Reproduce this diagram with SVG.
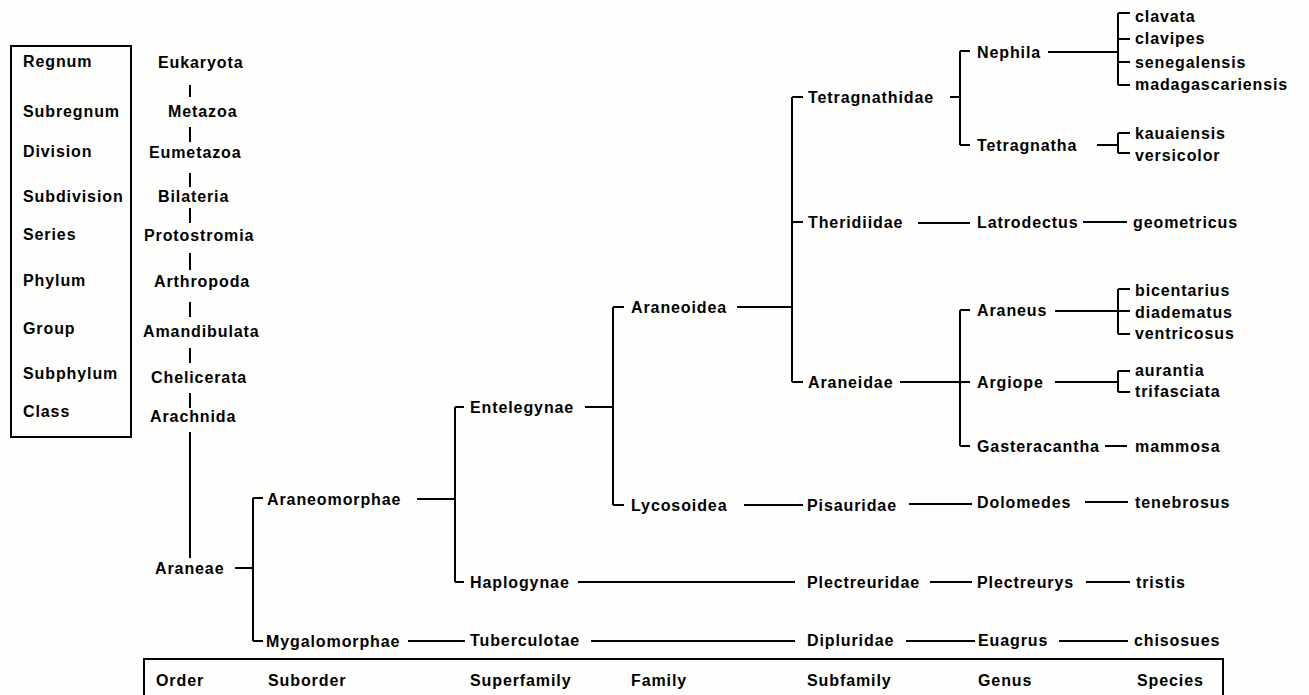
<svg xmlns="http://www.w3.org/2000/svg" width="1309" height="695" viewBox="0 0 1309 695">
<style>
text{font-family:"Liberation Sans",Arial,sans-serif;font-weight:bold;font-size:16px;letter-spacing:0.9px;fill:#000;dominant-baseline:central}
.ln{stroke:#000;stroke-width:2;fill:none}
.box{stroke:#000;stroke-width:2;fill:none}
</style>
<rect width="1309" height="695" fill="#fefefc"/>
<rect class="box" x="11" y="46" width="120" height="391"/>
<rect class="box" x="144" y="659" width="1079" height="60"/>
<g id="ranks">
<text x="23" y="61">Regnum</text>
<text x="23" y="111">Subregnum</text>
<text x="23" y="151">Division</text>
<text x="23" y="196">Subdivision</text>
<text x="23" y="234">Series</text>
<text x="23" y="280">Phylum</text>
<text x="23" y="328">Group</text>
<text x="23" y="373">Subphylum</text>
<text x="23" y="411">Class</text>
<text x="156" y="680">Order</text>
<text x="268" y="680">Suborder</text>
<text x="470" y="680">Superfamily</text>
<text x="631" y="680">Family</text>
<text x="807" y="680">Subfamily</text>
<text x="978" y="680">Genus</text>
<text x="1137" y="680">Species</text>
</g>
<g id="connectors" class="ln">
<path class="ln" d="M190 85V97M190 127V142M190 173V187M190 208V223M190 253V270M190 302V317M190 348V363M190 393V408M190 432V558"/>
<path class="ln" d="M235 568H253M253 498V641M253 498H263M253 641H263"/>
<path class="ln" d="M417 499H455M455 407V582M455 407H464M455 582H464"/>
<path class="ln" d="M585 407H613M613 307V505M613 307H624M613 505H624"/>
<path class="ln" d="M737 307H792M792 97V382M792 97H803M792 222H803M792 382H803"/>
<path class="ln" d="M950 97H960M960 51V145M960 51H970M960 145H970"/>
<path class="ln" d="M918 223H970"/>
<path class="ln" d="M900 382H960M960 310V446M960 310H970M960 382H970M960 446H970"/>
<path class="ln" d="M744 505H803M909 504H972"/>
<path class="ln" d="M578 582H795M930 582H972M1086 582H1130"/>
<path class="ln" d="M408 641H465M591 641H795M906 641H975M1059 641H1128"/>
<path class="ln" d="M1048 52H1118M1118 13V85M1118 13H1130M1118 39H1130M1118 62H1130M1118 85H1130"/>
<path class="ln" d="M1097 145H1118M1118 133V153M1118 133H1130M1118 153H1130"/>
<path class="ln" d="M1083 222H1127"/>
<path class="ln" d="M1055 311H1118M1118 289V334M1118 289H1130M1118 311H1130M1118 334H1130"/>
<path class="ln" d="M1055 382H1118M1118 371V392M1118 371H1130M1118 392H1130"/>
<path class="ln" d="M1105 446H1127"/>
<path class="ln" d="M1085 502H1128"/>
</g>
<g id="n-eukaryota"><text x="158" y="62">Eukaryota</text></g>
<g id="n-metazoa"><text x="168" y="111">Metazoa</text></g>
<g id="n-eumetazoa"><text x="149" y="152">Eumetazoa</text></g>
<g id="n-bilateria"><text x="158" y="196">Bilateria</text></g>
<g id="n-protostromia"><text x="144" y="235">Protostromia</text></g>
<g id="n-arthropoda"><text x="154" y="281">Arthropoda</text></g>
<g id="n-amandibulata"><text x="143" y="331">Amandibulata</text></g>
<g id="n-chelicerata"><text x="151" y="377">Chelicerata</text></g>
<g id="n-arachnida"><text x="150" y="416">Arachnida</text></g>
<g id="n-araneae"><text x="155" y="568">Araneae</text></g>
<g id="n-araneomorphae"><text x="267" y="499">Araneomorphae</text></g>
<g id="n-mygalomorphae"><text x="266" y="641">Mygalomorphae</text></g>
<g id="n-entelegynae"><text x="470" y="407">Entelegynae</text></g>
<g id="n-haplogynae"><text x="470" y="582">Haplogynae</text></g>
<g id="n-tuberculotae"><text x="470" y="640">Tuberculotae</text></g>
<g id="n-araneoidea"><text x="631" y="307">Araneoidea</text></g>
<g id="n-lycosoidea"><text x="631" y="505">Lycosoidea</text></g>
<g id="n-tetragnathidae"><text x="808" y="97">Tetragnathidae</text></g>
<g id="n-theridiidae"><text x="808" y="222">Theridiidae</text></g>
<g id="n-araneidae"><text x="808" y="382">Araneidae</text></g>
<g id="n-pisauridae"><text x="807" y="505">Pisauridae</text></g>
<g id="n-plectreuridae"><text x="807" y="582">Plectreuridae</text></g>
<g id="n-dipluridae"><text x="807" y="640">Dipluridae</text></g>
<g id="n-nephila"><text x="977" y="52">Nephila</text></g>
<g id="n-tetragnatha"><text x="977" y="145">Tetragnatha</text></g>
<g id="n-latrodectus"><text x="977" y="222">Latrodectus</text></g>
<g id="n-araneus"><text x="977" y="310">Araneus</text></g>
<g id="n-argiope"><text x="977" y="382">Argiope</text></g>
<g id="n-gasteracantha"><text x="977" y="446">Gasteracantha</text></g>
<g id="n-dolomedes"><text x="977" y="502">Dolomedes</text></g>
<g id="n-plectreurys"><text x="977" y="582">Plectreurys</text></g>
<g id="n-euagrus"><text x="978" y="640">Euagrus</text></g>
<g id="n-clavata"><text x="1135" y="16">clavata</text></g>
<g id="n-clavipes"><text x="1135" y="38">clavipes</text></g>
<g id="n-senegalensis"><text x="1135" y="62">senegalensis</text></g>
<g id="n-madagascariensis"><text x="1135" y="84">madagascariensis</text></g>
<g id="n-kauaiensis"><text x="1135" y="133">kauaiensis</text></g>
<g id="n-versicolor"><text x="1135" y="155">versicolor</text></g>
<g id="n-geometricus"><text x="1133" y="222">geometricus</text></g>
<g id="n-bicentarius"><text x="1135" y="290">bicentarius</text></g>
<g id="n-diadematus"><text x="1135" y="312">diadematus</text></g>
<g id="n-ventricosus"><text x="1135" y="333">ventricosus</text></g>
<g id="n-aurantia"><text x="1135" y="370">aurantia</text></g>
<g id="n-trifasciata"><text x="1135" y="391">trifasciata</text></g>
<g id="n-mammosa"><text x="1135" y="446">mammosa</text></g>
<g id="n-tenebrosus"><text x="1135" y="502">tenebrosus</text></g>
<g id="n-tristis"><text x="1136" y="582">tristis</text></g>
<g id="n-chisosues"><text x="1134" y="640">chisosues</text></g>
</svg>
